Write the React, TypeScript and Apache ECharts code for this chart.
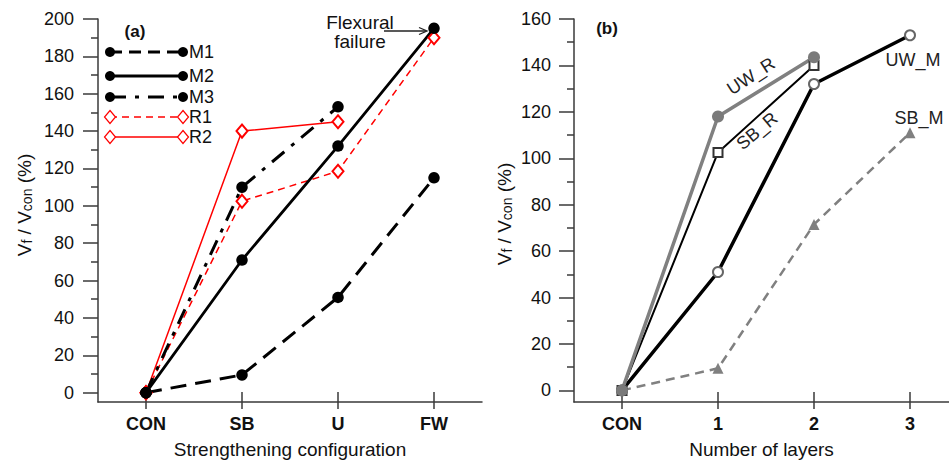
import React, { useEffect, useRef } from "react";
import * as echarts from "echarts";

// ---- data ----
const configCategories = ["CON", "SB", "U", "FW"];
const m1Values = [0, 9.5, 51, 115];
const m2Values = [0, 71, 132, 195];
const m3Values = [0, 110, 153];
const r1Values = [0, 102.5, 118.5, 190];
const r2Values = [0, 140, 145];

const layerCategories = ["CON", "1", "2", "3"];
const uwRValues = [0, 118, 143.5];
const sbRValues = [0, 102.5, 140];
const uwMValues = [0, 51, 132, 153];
const sbMValues = [0, 9.5, 71.5, 111];

const leftYTicks = [0, 20, 40, 60, 80, 100, 120, 140, 160, 180, 200];
const leftYMinor = [10, 30, 50, 70, 90, 110, 130, 150, 170, 190];
const rightYTicks = [0, 20, 40, 60, 80, 100, 120, 140, 160];
const rightYMinor = [10, 30, 50, 70, 90, 110, 130, 150];
const xTickPositions = [0, 1, 2, 3];

const FONT = "'Liberation Sans', Arial, Helvetica, sans-serif";
const AX = "#3a3a3a";
const TXT = "#111";

const toPoints = (vals: number[]) => vals.map((v, i) => [i, v]);

function xAxes(gridIndex: number, max: number, cats: string[], name: string) {
  return [
    {
      type: "value",
      gridIndex,
      position: "bottom",
      offset: 0,
      min: -0.5,
      max,
      axisLine: { show: true, onZero: false, lineStyle: { color: AX, width: 1.5 } },
      axisTick: { show: true, inside: true, length: 10, customValues: xTickPositions, lineStyle: { color: AX, width: 1.5 } },
      axisLabel: {
        show: true,
        customValues: xTickPositions,
        formatter: (v: number) => cats[Math.round(v)] ?? "",
        fontSize: 18,
        fontWeight: "bold",
        color: TXT,
        fontFamily: FONT,
        margin: 13,
      },
      splitLine: { show: false },
      name,
      nameLocation: "middle",
      nameGap: 38,
      nameTextStyle: { fontSize: 19, color: TXT, fontFamily: FONT },
    },
    {
      type: "value",
      gridIndex,
      position: "bottom",
      offset: 0,
      min: -0.5,
      max,
      axisLine: { show: false, onZero: false },
      axisTick: { show: true, inside: false, length: 7, customValues: xTickPositions, lineStyle: { color: AX, width: 1.5 } },
      axisLabel: { show: false },
      splitLine: { show: false },
    },
  ];
}

function yAxes(gridIndex: number, max: number, major: number[], minor: number[], margin: number) {
  return [
    {
      type: "value",
      gridIndex,
      position: "left",
      offset: 0,
      min: -5,
      max,
      axisLine: { show: true, onZero: false, lineStyle: { color: AX, width: 1.5 } },
      axisTick: { show: true, length: 15, customValues: major, lineStyle: { color: AX, width: 1.5 } },
      axisLabel: { show: true, customValues: major, fontSize: 18, color: TXT, fontFamily: FONT, margin },
      splitLine: { show: false },
    },
    {
      type: "value",
      gridIndex,
      position: "left",
      offset: 0,
      min: -5,
      max,
      axisLine: { show: false, onZero: false },
      axisTick: { show: true, length: 7, customValues: minor, lineStyle: { color: AX, width: 1.5 } },
      axisLabel: { show: false },
      splitLine: { show: false },
    },
  ];
}

const legendRows = [
  { name: "M1", y: 52, color: "#000", width: 3, dash: [12, 7], mark: "dot" },
  { name: "M2", y: 76, color: "#000", width: 3, dash: null, mark: "dot" },
  { name: "M3", y: 97, color: "#000", width: 3, dash: [16, 9, 4, 9], mark: "dot" },
  { name: "R1", y: 117, color: "#ff0000", width: 1.5, dash: [7, 5], mark: "diamond" },
  { name: "R2", y: 137, color: "#ff0000", width: 1.5, dash: null, mark: "diamond" },
];

function legendGraphics() {
  const els: any[] = [];
  const x1 = 110;
  const x2 = 183;
  legendRows.forEach((r) => {
    els.push({
      type: "line",
      shape: { x1, y1: r.y, x2, y2: r.y },
      style: { stroke: r.color, lineWidth: r.width, lineDash: r.dash || undefined },
    });
    [x1, x2].forEach((x) => {
      if (r.mark === "dot") {
        els.push({ type: "circle", shape: { cx: x, cy: r.y, r: 5 }, style: { fill: "#000" } });
      } else {
        els.push({
          type: "polygon",
          shape: { points: [[x, r.y - 6.5], [x + 5.5, r.y], [x, r.y + 6.5], [x - 5.5, r.y]] },
          style: { fill: "#fff", stroke: "#ff0000", lineWidth: 1.2 },
        });
      }
    });
    els.push({
      type: "text",
      x: 189,
      y: r.y,
      style: { text: r.name, fontSize: 18, fontFamily: FONT, fill: TXT, align: "left", verticalAlign: "middle" },
    });
  });
  return els;
}

function yTitle(x: number, y: number) {
  return {
    type: "text",
    x,
    y,
    rotation: Math.PI / 2,
    style: {
      text: "{m|V}{s|f}{m| / V}{s|con}{m| (%)}",
      align: "center",
      verticalAlign: "middle",
      rich: {
        m: { fontSize: 19, fontFamily: FONT, fill: TXT, lineHeight: 21, verticalAlign: "bottom" },
        s: { fontSize: 14, fontFamily: FONT, fill: TXT, lineHeight: 8, verticalAlign: "bottom" },
      },
    },
  };
}

function textAt(text: string, x: number, y: number, opts: any = {}) {
  return {
    type: "text",
    x,
    y,
    rotation: opts.rotation || 0,
    style: {
      text,
      fontSize: opts.fontSize || 18,
      fontWeight: opts.fontWeight || "normal",
      fontFamily: FONT,
      fill: opts.fill || TXT,
      align: "center",
      verticalAlign: "middle",
      lineHeight: opts.lineHeight,
    },
  };
}

export default function App() {
  const ref = useRef<HTMLDivElement>(null);
  useEffect(() => {
    if (!ref.current) return;
    const chart = echarts.init(ref.current, null, { renderer: "svg" });
    const dot = { symbol: "circle", symbolSize: 11.5, itemStyle: { color: "#000", borderWidth: 0 } };
    const diamond = {
      symbol: "emptyDiamond",
      symbolSize: [11, 13],
      itemStyle: { color: "#ff0000", borderWidth: 1.2 },
    };
    const option: any = {
      animation: false,
      backgroundColor: "#fff",
      grid: [
        { left: 98, top: 19, width: 384, height: 383.7, containLabel: false },
        { left: 574, top: 19, width: 375, height: 383.7, containLabel: false },
      ],
      xAxis: [
        ...xAxes(0, 3.5, configCategories, "Strengthening configuration"),
        ...xAxes(1, -0.5 + 375 / 96, layerCategories, "Number of layers"),
      ],
      yAxis: [...yAxes(0, 200, leftYTicks, leftYMinor, 24), ...yAxes(1, 160, rightYTicks, rightYMinor, 23)],
      series: [
        {
          name: "R2", type: "line", xAxisIndex: 0, yAxisIndex: 0, data: toPoints(r2Values),
          lineStyle: { color: "#ff0000", width: 1.5 }, ...diamond,
        },
        {
          name: "R1", type: "line", xAxisIndex: 0, yAxisIndex: 0, data: toPoints(r1Values),
          lineStyle: { color: "#ff0000", width: 1.5, type: [7, 5] }, ...diamond,
        },
        {
          name: "M1", type: "line", xAxisIndex: 0, yAxisIndex: 0, data: toPoints(m1Values),
          lineStyle: { color: "#000", width: 3, type: [16, 9] }, ...dot,
        },
        {
          name: "M2", type: "line", xAxisIndex: 0, yAxisIndex: 0, data: toPoints(m2Values),
          lineStyle: { color: "#000", width: 2.8 }, ...dot,
        },
        {
          name: "M3", type: "line", xAxisIndex: 0, yAxisIndex: 0, data: toPoints(m3Values),
          lineStyle: { color: "#000", width: 3, type: [16, 9, 4, 9] }, ...dot,
        },
        {
          name: "SB_M", type: "line", xAxisIndex: 2, yAxisIndex: 2, data: toPoints(sbMValues),
          lineStyle: { color: "#808080", width: 2.5, type: [9, 6] },
          symbol: "triangle", symbolSize: 11, itemStyle: { color: "#808080", borderWidth: 0 },
        },
        {
          name: "UW_M", type: "line", xAxisIndex: 2, yAxisIndex: 2, data: toPoints(uwMValues),
          lineStyle: { color: "#000", width: 3.5 },
          symbol: "emptyCircle", symbolSize: 10, itemStyle: { color: "#666", borderWidth: 1 },
        },
        {
          name: "SB_R", type: "line", xAxisIndex: 2, yAxisIndex: 2, data: toPoints(sbRValues),
          lineStyle: { color: "#000", width: 2 },
          symbol: "emptyRect", symbolSize: 9, itemStyle: { color: "#333", borderWidth: 1 },
        },
        {
          name: "UW_R", type: "line", xAxisIndex: 2, yAxisIndex: 2, data: toPoints(uwRValues),
          lineStyle: { color: "#808080", width: 3.5 },
          symbol: "circle", symbolSize: 12, itemStyle: { color: "#7a7a7a", borderWidth: 0 },
        },
      ],
      graphic: [
        ...legendGraphics(),
        yTitle(23, 205),
        yTitle(503, 214),
        textAt("(a)", 135, 31, { fontSize: 17, fontWeight: "bold" }),
        textAt("(b)", 607, 28, { fontSize: 17, fontWeight: "bold" }),
        textAt("Flexural\nfailure", 360, 31.5, { fontSize: 19, lineHeight: 19 }),
        { type: "line", shape: { x1: 384, y1: 31, x2: 426, y2: 31 }, style: { stroke: "#222", lineWidth: 1.3 } },
        {
          type: "polyline",
          shape: { points: [[419, 27.5], [427, 31], [419, 34.5]] },
          style: { stroke: "#222", lineWidth: 1.3, fill: null },
        },
        textAt("UW_R", 751, 76, { rotation: (33 * Math.PI) / 180, fill: "#222" }),
        textAt("SB_R", 757, 131, { rotation: (40 * Math.PI) / 180, fill: "#222" }),
        textAt("UW_M", 913, 60, { fill: "#222" }),
        textAt("SB_M", 919, 118, { fill: "#222" }),
      ],
    };
    chart.setOption(option);
    return () => chart.dispose();
  }, []);
  return (
    <div
      ref={ref}
      style={{ position: "fixed", left: 0, top: 0, width: 949, height: 464, background: "#fff" }}
    />
  );
}
